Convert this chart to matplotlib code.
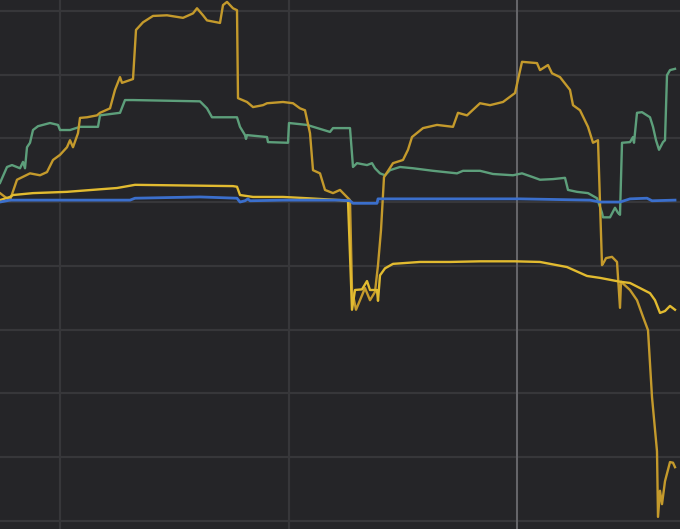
import numpy as np
import matplotlib
matplotlib.use('Agg')
import matplotlib.pyplot as plt

# Series values (% change), x = trading day index
gold_x = [0, 5, 10, 17, 30, 40, 47, 53, 60, 67, 70, 73, 78, 80, 87, 97, 100, 110, 115, 120,
          122, 133, 136, 143, 153, 167, 183, 193, 197, 203, 207, 220, 223, 227, 233, 237, 238,
          247, 253, 263, 267, 283, 293, 300, 305, 310, 313, 320, 325, 333, 340, 345, 350, 352,
          356, 360, 365, 370, 375, 378, 381, 384, 393, 403, 408, 412, 423, 437, 453, 458, 467,
          480, 490, 503, 515, 522, 537, 540, 548, 552, 560, 570, 573, 580, 588, 593, 598, 602,
          604, 606, 612, 617, 620, 621, 630, 637, 643, 648, 652, 657, 658, 660, 662, 665, 670,
          673, 675]
gold_y = [1.4, 0.8, 0.3, 3.5, 4.5, 4.2, 4.7, 6.6, 7.4, 8.6, 9.7, 8.6, 10.8, 13.2, 13.3, 13.6,
          14.0, 14.7, 17.6, 19.6, 18.7, 19.3, 27.0, 28.2, 29.2, 29.3, 28.9, 29.6, 30.4, 29.3,
          28.5, 28.1, 30.9, 31.4, 30.4, 30.1, 16.3, 15.7, 14.9, 15.2, 15.5, 15.7, 15.5, 14.7,
          14.4, 10.8, 5.0, 4.5, 1.9, 1.4, 1.9, 1.1, 0.3, -13.8, -16.9, -15.4, -13.5, -15.4,
          -14.1, -9.9, -4.4, 3.9, 6.1, 6.6, 8.2, 10.2, 11.6, 12.1, 11.8, 14.0, 13.6, 15.5, 15.2,
          15.7, 17.1, 22.0, 21.8, 20.7, 21.5, 20.2, 19.6, 17.6, 15.2, 14.4, 11.8, 9.3, 9.7,
          -9.9, -9.4, -8.8, -8.6, -9.4, -16.6, -12.5, -13.8, -15.4, -18.0, -20.1, -30.6, -39.1,
          -49.4, -45.3, -47.4, -43.8, -40.8, -40.9, -41.6]

yellow_x = [0, 10, 13, 33, 67, 100, 117, 135, 233, 237, 240, 253, 283, 307, 340, 348, 352,
            355, 362, 367, 370, 377, 378, 380, 385, 393, 420, 450, 480, 515, 540, 567, 587,
            600, 610, 620, 630, 650, 655, 660, 665, 670, 675]
yellow_y = [0.3, 0.8, 1.1, 1.4, 1.6, 2.0, 2.2, 2.7, 2.5, 2.4, 1.1, 0.8, 0.8, 0.6, 0.3, 0.2,
            -16.9, -13.8, -13.7, -12.4, -13.8, -13.8, -15.5, -11.5, -10.4, -9.7, -9.4, -9.4,
            -9.3, -9.3, -9.4, -10.2, -11.6, -11.9, -12.2, -12.5, -12.7, -14.3, -15.4, -17.4,
            -17.1, -16.3, -16.9]

green_x = [0, 7, 12, 20, 23, 25, 27, 30, 33, 38, 50, 58, 60, 70, 80, 98, 100, 120, 125, 133,
           200, 207, 212, 237, 240, 245, 246, 247, 267, 268, 288, 289, 307, 330, 333, 350, 353,
           357, 367, 372, 375, 380, 385, 390, 400, 413, 433, 457, 463, 480, 493, 513, 522, 533,
           540, 553, 565, 568, 577, 588, 597, 602, 603, 610, 615, 618, 620, 622, 630, 633, 634,
           637, 642, 650, 653, 656, 659, 663, 665, 667, 670, 675]
green_y = [3.0, 5.5, 5.8, 5.3, 6.3, 5.3, 8.6, 9.3, 11.3, 11.9, 12.4, 12.1, 11.3, 11.3, 11.8,
           11.8, 13.6, 14.0, 16.0, 16.0, 15.8, 14.7, 13.3, 13.3, 11.8, 10.5, 9.9, 10.5, 10.2,
           9.4, 9.3, 12.4, 12.1, 11.0, 11.6, 11.6, 5.5, 6.1, 5.8, 6.1, 5.3, 4.5, 4.2, 5.0, 5.5,
           5.3, 4.9, 4.5, 4.9, 4.9, 4.4, 4.2, 4.5, 3.9, 3.5, 3.6, 3.8, 1.9, 1.6, 1.4, 0.6, -1.7,
           -2.4, -2.4, -0.9, -1.7, -2.0, 9.3, 9.4, 10.2, 9.3, 14.0, 14.1, 13.3, 11.8, 9.7, 8.2,
           9.4, 9.7, 19.9, 20.7, 20.9]

blue_x = [0, 10, 130, 135, 200, 237, 240, 245, 248, 250, 283, 300, 340, 350, 353, 377, 378,
          450, 520, 590, 600, 620, 630, 647, 652, 675]
blue_y = [0.0, 0.3, 0.3, 0.6, 0.8, 0.6, 0.0, 0.2, 0.5, 0.2, 0.3, 0.3, 0.3, 0.2, -0.2, -0.2,
          0.5, 0.5, 0.5, 0.3, 0.0, 0.0, 0.5, 0.6, 0.2, 0.3]

hover_x = 517

fig = plt.figure(figsize=(6.8, 5.29), dpi=100)
fig.patch.set_facecolor('#252528')
ax = fig.add_axes([0, 0, 1, 1])
ax.set_facecolor('#252528')

ax.set_xlim(0, 680)
ax.set_ylim(-51.3, 31.7)
ax.set_xticks(np.arange(60, 680, 228.5))
ax.set_yticks(np.arange(-50, 31, 10))
ax.grid(True, color='#37373a', linewidth=1.6)
ax.tick_params(length=0, labelleft=False, labelbottom=False)
for s in ax.spines.values():
    s.set_visible(False)

# crosshair line
ax.axvline(hover_x, color='#6a6a6f', linewidth=1.3, zorder=2)

ax.plot(green_x, green_y, color='#5d9f7b', linewidth=1.7, zorder=3)
ax.plot(gold_x, gold_y, color='#c49a2c', linewidth=1.7, zorder=4)
ax.plot(yellow_x, yellow_y, color='#e2bb30', linewidth=1.7, zorder=5)
ax.plot(blue_x, blue_y, color='#3b6fcc', linewidth=2.0, zorder=6)

fig.savefig('out.png', dpi=100, facecolor=fig.get_facecolor())
